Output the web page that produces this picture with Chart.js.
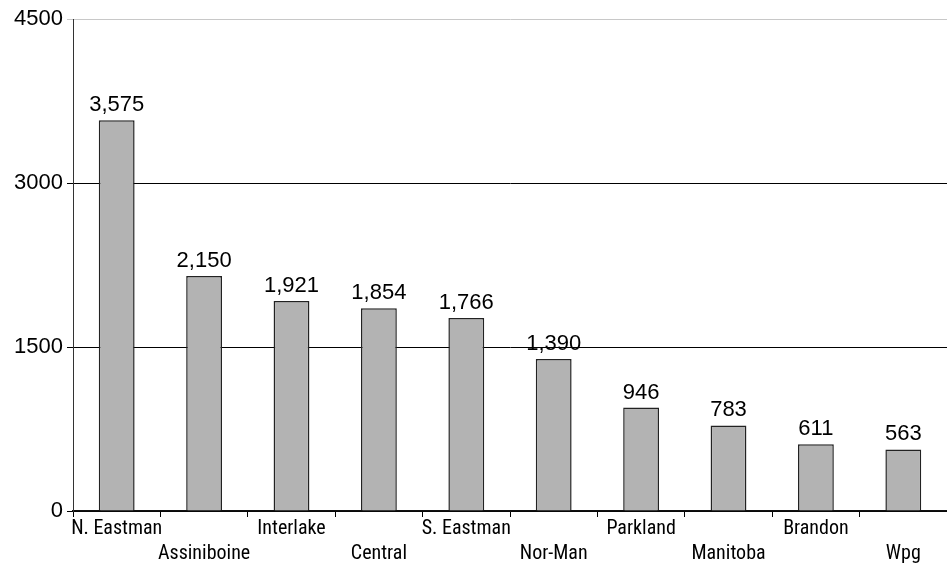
<!DOCTYPE html>
<html>
<head>
<meta charset="utf-8">
<script src="https://cdn.jsdelivr.net/npm/chart.js@4/dist/chart.umd.min.js"></script>
<style>
html,body{margin:0;padding:0;background:#fff;}
#wrap{width:947px;height:565px;}
</style>
</head>
<body>
<div id="wrap"><canvas id="c" width="947" height="565"></canvas></div>
<script>
const categories = ['N. Eastman','Assiniboine','Interlake','Central','S. Eastman','Nor-Man','Parkland','Manitoba','Brandon','Wpg'];
const values = [3575, 2150, 1921, 1854, 1766, 1390, 946, 783, 611, 563];
const yTicks = [0, 1500, 3000, 4500];

const NUM_FONT = '"Liberation Sans", Arial, Helvetica, sans-serif';
const CAT_FONT = '"Roboto Condensed", "DejaVu Sans Condensed", sans-serif';

const valueLabels = {
  id: 'valueLabels',
  afterDatasetsDraw(chart) {
    const ctx = chart.ctx;
    const meta = chart.getDatasetMeta(0);
    ctx.save();
    ctx.font = '22px ' + NUM_FONT;
    ctx.fillStyle = '#000';
    ctx.textAlign = 'center';
    ctx.textBaseline = 'alphabetic';
    meta.data.forEach((bar, i) => {
      ctx.fillText(values[i].toLocaleString('en-US'), bar.x, bar.y - 9);
    });
    ctx.restore();
  }
};

function draw() {
  new Chart(document.getElementById('c'), {
    type: 'bar',
    data: {
      labels: categories,
      datasets: [{
        data: values,
        backgroundColor: '#b3b3b3',
        borderColor: '#222',
        borderWidth: 1.5,
        categoryPercentage: 1,
        barPercentage: 0.41
      }]
    },
    options: {
      responsive: false,
      animation: false,
      devicePixelRatio: 1,
      layout: { padding: { top: 19, right: 0, left: 0, bottom: 0 } },
      plugins: { legend: { display: false }, tooltip: { enabled: false } },
      scales: {
        x: {
          grid: { offset: true, drawOnChartArea: false, drawTicks: true, tickLength: 6, color: '#000' },
          border: { color: '#111', width: 1.5 },
          ticks: {
            autoSkip: false,
            maxRotation: 0,
            minRotation: 0,
            padding: 0,
            color: '#000',
            font: { family: CAT_FONT, size: 20, lineHeight: 1.22 },
            callback: function(v, i) { return i % 2 === 0 ? categories[i] : ['', categories[i]]; }
          },
          afterFit(scale) { scale.height = 54; }
        },
        y: {
          min: 0,
          max: 4500,
          afterBuildTicks(scale) { scale.ticks = yTicks.map(v => ({ value: v })); },
          grid: {
            drawTicks: true,
            tickLength: 6,
            color: (c) => (c.tick && c.tick.value === 4500) ? '#c8c8c8' : '#000',
            lineWidth: 1
          },
          border: { color: '#333', width: 1 },
          ticks: {
            padding: 4,
            color: '#000',
            font: { family: NUM_FONT, size: 22 },
            callback: (v) => String(v)
          },
          afterFit(scale) { scale.width = 73; }
        }
      }
    },
    plugins: [valueLabels]
  });
}

Promise.all([
  document.fonts.load('22px "Liberation Sans"'),
  document.fonts.load('20px "Roboto Condensed"')
]).then(draw, draw);
</script>
</body>
</html>
